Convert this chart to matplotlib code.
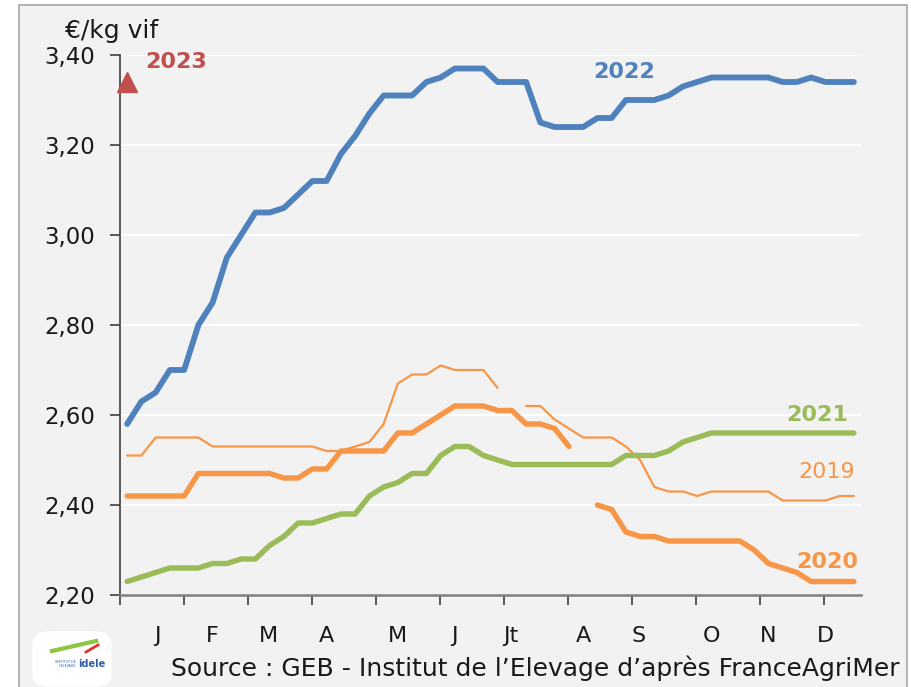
import numpy as np
import matplotlib
matplotlib.use("Agg")
import matplotlib.pyplot as plt
from matplotlib.patches import Rectangle, FancyBboxPatch
from matplotlib.ticker import FixedLocator, FuncFormatter

plt.rcParams['font.family'] = ['DejaVu Sans']

nan = np.nan
weeks = list(range(1, 53))

prix_2019 = [2.51, 2.51, 2.55, 2.55, 2.55, 2.55, 2.53, 2.53, 2.53, 2.53,
             2.53, 2.53, 2.53, 2.53, 2.52, 2.52, 2.53, 2.54, 2.58, 2.67,
             2.69, 2.69, 2.71, 2.70, 2.70, 2.70, 2.66, nan, 2.62, 2.62,
             2.59, 2.57, 2.55, 2.55, 2.55, 2.53, 2.50, 2.44, 2.43, 2.43,
             2.42, 2.43, 2.43, 2.43, 2.43, 2.43, 2.41, 2.41, 2.41, 2.41,
             2.42, 2.42]

prix_2020 = [2.42, 2.42, 2.42, 2.42, 2.42, 2.47, 2.47, 2.47, 2.47, 2.47,
             2.47, 2.46, 2.46, 2.48, 2.48, 2.52, 2.52, 2.52, 2.52, 2.56,
             2.56, 2.58, 2.60, 2.62, 2.62, 2.62, 2.61, 2.61, 2.58, 2.58,
             2.57, 2.53, nan, 2.40, 2.39, 2.34, 2.33, 2.33, 2.32, 2.32,
             2.32, 2.32, 2.32, 2.32, 2.30, 2.27, 2.26, 2.25, 2.23, 2.23,
             2.23, 2.23]

prix_2021 = [2.23, 2.24, 2.25, 2.26, 2.26, 2.26, 2.27, 2.27, 2.28, 2.28,
             2.31, 2.33, 2.36, 2.36, 2.37, 2.38, 2.38, 2.42, 2.44, 2.45,
             2.47, 2.47, 2.51, 2.53, 2.53, 2.51, 2.50, 2.49, 2.49, 2.49,
             2.49, 2.49, 2.49, 2.49, 2.49, 2.51, 2.51, 2.51, 2.52, 2.54,
             2.55, 2.56, 2.56, 2.56, 2.56, 2.56, 2.56, 2.56, 2.56, 2.56,
             2.56, 2.56]

prix_2022 = [2.58, 2.63, 2.65, 2.70, 2.70, 2.80, 2.85, 2.95, 3.00, 3.05,
             3.05, 3.06, 3.09, 3.12, 3.12, 3.18, 3.22, 3.27, 3.31, 3.31,
             3.31, 3.34, 3.35, 3.37, 3.37, 3.37, 3.34, 3.34, 3.34, 3.25,
             3.24, 3.24, 3.24, 3.26, 3.26, 3.30, 3.30, 3.30, 3.31, 3.33,
             3.34, 3.35, 3.35, 3.35, 3.35, 3.35, 3.34, 3.34, 3.35, 3.34,
             3.34, 3.34]

week_2023 = [1]
prix_2023 = [3.34]

month_labels = ["J", "F", "M", "A", "M", "J", "Jt", "A", "S", "O", "N", "D"]
month_pos = [3.1, 7.0, 10.9, 15.0, 20.0, 24.0, 27.9, 33.0, 36.9, 42.0, 46.0, 50.0]
tick_pos = [0.5 + 4.49 * k for k in range(12)]
y_ticks = [2.20, 2.40, 2.60, 2.80, 3.00, 3.20, 3.40]

c_blue = "#4F81BD"
c_green = "#9BBB59"
c_orange = "#F79646"
c_red = "#C0504D"
bg = "#F2F2F2"

fig = plt.figure(figsize=(9.12, 6.87), dpi=100)
fig.patch.set_facecolor("white")
frame = Rectangle((19 / 912, -0.02), 888 / 912, 1.02 - 5 / 687,
                  transform=fig.transFigure, facecolor=bg,
                  edgecolor="#A6A6A6", linewidth=1.2, zorder=-10)
fig.patches.append(frame)

ax = fig.add_axes([120 / 912, 1 - 595 / 687, 741 / 912, 540 / 687], zorder=2)
ax.set_facecolor(bg)
ax.set_xlim(0.5, 52.5)
ax.set_ylim(2.2, 3.4)

ax.set_yticks(y_ticks)
ax.yaxis.set_major_formatter(FuncFormatter(lambda v, p: f"{v:.2f}".replace(".", ",")))
ax.grid(axis="y", color="white", linewidth=1.5)
ax.set_axisbelow(True)

ax.xaxis.set_major_locator(FixedLocator(tick_pos))
ax.xaxis.set_minor_locator(FixedLocator(month_pos))
ax.set_xticklabels([])
ax.set_xticklabels(month_labels, minor=True)
ax.tick_params(axis="x", which="major", length=7, width=1.2, color="#404040", direction="out")
ax.tick_params(axis="x", which="minor", length=0, pad=22, labelsize=16, labelcolor="#1a1a1a")
ax.tick_params(axis="y", length=7, width=1.2, color="#404040", pad=11, labelsize=16.5,
               labelcolor="#1a1a1a")

for s in ["top", "right"]:
    ax.spines[s].set_visible(False)
ax.spines["left"].set_color("#404040")
ax.spines["left"].set_linewidth(1.2)
ax.spines["bottom"].set_color("#808080")
ax.spines["bottom"].set_linewidth(1.8)

ax.plot(weeks, prix_2019, color=c_orange, linewidth=1.6, solid_capstyle="round",
        solid_joinstyle="round", zorder=3)
ax.plot(weeks, prix_2021, color=c_green, linewidth=3.9, solid_capstyle="round",
        solid_joinstyle="round", zorder=3)
ax.plot(weeks, prix_2020, color=c_orange, linewidth=3.9, solid_capstyle="round",
        solid_joinstyle="round", zorder=4)
ax.plot(weeks, prix_2022, color=c_blue, linewidth=4.2, solid_capstyle="round",
        solid_joinstyle="round", zorder=5)
ax.plot(week_2023, prix_2023, linestyle="none", marker="^", markersize=14,
        color=c_red, zorder=6, clip_on=False)

ax.text(2.3, 3.384, "2023", color=c_red, fontsize=16, fontweight="bold",
        ha="left", va="center")
ax.text(35.9, 3.362, "2022", color=c_blue, fontsize=16, fontweight="bold",
        ha="center", va="center")
ax.text(51.6, 2.60, "2021", color=c_green, fontsize=16, fontweight="bold",
        ha="right", va="center")
ax.text(52.1, 2.473, "2019", color=c_orange, fontsize=16,
        ha="right", va="center")
ax.text(52.3, 2.273, "2020", color=c_orange, fontsize=16, fontweight="bold",
        ha="right", va="center")

fig.text(65 / 912, 1 - 31 / 687, "€/kg vif", fontsize=18, color="#1a1a1a",
         ha="left", va="center")
fig.text(900 / 912, 1 - 668 / 687,
         "Source : GEB - Institut de l\u2019Elevage d\u2019après FranceAgriMer",
         fontsize=18, color="#1a1a1a", ha="right", va="center")

# logo
logo = FancyBboxPatch((36 / 912, 1 - 684 / 687), 72 / 912, 50 / 687,
                      boxstyle="round,pad=0.004,rounding_size=0.02",
                      transform=fig.transFigure, facecolor="white",
                      edgecolor="none", zorder=1)
fig.patches.append(logo)
fig.lines.append(plt.Line2D([52 / 912, 96 / 912], [1 - 651 / 687, 1 - 641 / 687],
                            transform=fig.transFigure, color="#8DC63F",
                            linewidth=3, zorder=2))
fig.lines.append(plt.Line2D([86 / 912, 98 / 912], [1 - 652 / 687, 1 - 645 / 687],
                            transform=fig.transFigure, color="#E4322B",
                            linewidth=2, zorder=2))
fig.text(78 / 912, 1 - 664 / 687, "idele", fontsize=7, fontweight="bold",
         color="#2E5FA8", ha="left", va="center", zorder=3)
fig.text(76 / 912, 1 - 664 / 687, "INSTITUT DE\nL'ELEVAGE", fontsize=2.3,
         color="#2E5FA8", ha="right", va="center", zorder=3)

fig.savefig("out.png", dpi=100, facecolor=fig.get_facecolor())
